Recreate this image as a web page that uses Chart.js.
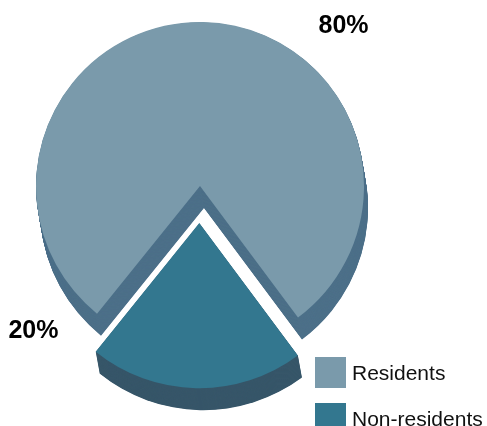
<!DOCTYPE html>
<html>
<head>
<meta charset="utf-8">
<script src="https://cdn.jsdelivr.net/npm/chart.js@4.4.1/dist/chart.umd.min.js"></script>
<style>
html, body { margin: 0; padding: 0; background: #ffffff; overflow: hidden; }
#wrap { position: relative; width: 487px; height: 426px; overflow: hidden; }
#c { position: absolute; left: 0; top: 0; }
#legend { position: absolute; left: 315px; top: 357px; font-family: "Liberation Sans", Arial, Helvetica, sans-serif; font-size: 21px; color: #111111; }
.item { display: flex; align-items: center; height: 31px; margin-bottom: 15px; white-space: nowrap; }
.box { width: 31px; height: 31px; margin-right: 6px; flex: none; }
</style>
</head>
<body>
<div id="wrap">
  <canvas id="c" width="487" height="426"></canvas>
  <div id="legend"></div>
</div>
<script>
// ---- data ----
const categories = ['Residents', 'Non-residents'];
const shares = [79, 21];            // slice sizes
const shareLabels = ['80%', '20%']; // label texts as printed
const faceColors = ['#7a9aab', '#33778f'];
const sideColors = ['#4d7089', '#375669'];

// ---- 3D depth plugin (extrudes each arc drawn by Chart.js) ----
const depthPlugin = {
  id: 'depth3d',
  beforeDatasetsDraw(chart, args, opts) {
    const meta = chart.getDatasetMeta(0);
    const ctx = chart.ctx;
    meta.data.forEach((arc, i) => {
      const p = arc.getProps(['x', 'y', 'startAngle', 'endAngle', 'outerRadius', 'circumference']);
      const o = (arc.options.offset || 0) / 4;
      const mid = (p.startAngle + p.endAngle) / 2;
      const fix = 1 - Math.sin(Math.min(Math.PI, p.circumference || 0));
      const r = p.outerRadius + o * fix;
      const cx = p.x + Math.cos(mid) * o;
      const cy = p.y + Math.sin(mid) * o;
      ctx.save();
      ctx.fillStyle = opts.colors[i];
      for (let k = opts.steps; k >= 1; k--) {
        const t = k / opts.steps;
        const x = cx + opts.dx * t, y = cy + opts.dy * t;
        ctx.beginPath();
        ctx.moveTo(x, y);
        ctx.arc(x, y, r, p.startAngle, p.endAngle);
        ctx.closePath();
        ctx.fill();
      }
      ctx.restore();
    });
  }
};

// ---- outside value labels ----
const valueLabelPlugin = {
  id: 'valueLabels',
  afterDatasetsDraw(chart, args, opts) {
    const meta = chart.getDatasetMeta(0);
    const ctx = chart.ctx;
    ctx.save();
    ctx.font = opts.font;
    ctx.fillStyle = opts.color;
    ctx.textAlign = 'center';
    ctx.textBaseline = 'middle';
    meta.data.forEach((arc, i) => {
      const pl = opts.placement[i];
      const a = pl.angle * Math.PI / 180;
      ctx.fillText(shareLabels[i], arc.x + Math.cos(a) * pl.dist, arc.y + Math.sin(a) * pl.dist);
    });
    ctx.restore();
  }
};

new Chart(document.getElementById('c'), {
  type: 'pie',
  data: {
    labels: categories,
    datasets: [{
      data: shares,
      backgroundColor: faceColors,
      borderWidth: 0,
      offset: [0, 148],
      hoverOffset: 0
    }]
  },
  options: {
    responsive: false,
    animation: false,
    events: [],
    rotation: 218.9,
    radius: 164,
    layout: { padding: { left: 0, right: 87, top: 0, bottom: 54 } },
    plugins: {
      legend: { display: false },
      tooltip: { enabled: false },
      depth3d: { colors: sideColors, dx: 4, dy: 22, steps: 44 },
      valueLabels: {
        font: 'bold 25px "Liberation Sans", Arial, sans-serif',
        color: '#000000',
        placement: [{ angle: -48.1, dist: 215 }, { angle: 138.9, dist: 221 }]
      }
    }
  },
  plugins: [depthPlugin, valueLabelPlugin]
});

// ---- legend (HTML, built from the data arrays) ----
const legendEl = document.getElementById('legend');
categories.forEach((name, i) => {
  const item = document.createElement('div');
  item.className = 'item';
  const box = document.createElement('span');
  box.className = 'box';
  box.style.background = faceColors[i];
  const txt = document.createElement('span');
  txt.textContent = name;
  item.appendChild(box);
  item.appendChild(txt);
  legendEl.appendChild(item);
});
</script>
</body>
</html>
